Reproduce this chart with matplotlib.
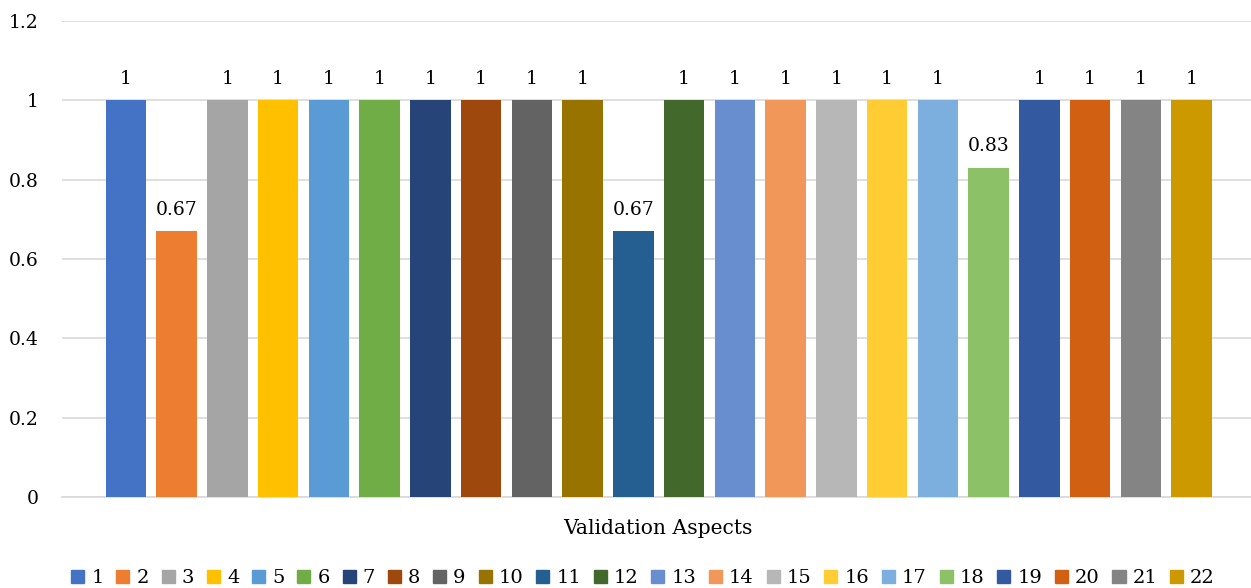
import matplotlib
matplotlib.use("Agg")
import matplotlib.pyplot as plt
from matplotlib.patches import Rectangle

categories = [str(i) for i in range(1, 23)]
values = [1, 0.67, 1, 1, 1, 1, 1, 1, 1, 1, 0.67, 1, 1, 1, 1, 1, 1, 0.83, 1, 1, 1, 1]
labels = ["1", "0.67", "1", "1", "1", "1", "1", "1", "1", "1", "0.67", "1", "1", "1",
          "1", "1", "1", "0.83", "1", "1", "1", "1"]
colors = ["#4472C4", "#ED7D31", "#A5A5A5", "#FFC000", "#5B9BD5", "#70AD47", "#264478",
          "#9E480E", "#636363", "#997300", "#255E91", "#43682B", "#698ED0", "#F1975A",
          "#B7B7B7", "#FFCD33", "#7CAFDD", "#8CC168", "#335AA1", "#D26012", "#848484",
          "#CC9A00"]
yticks = [0, 0.2, 0.4, 0.6, 0.8, 1, 1.2]
ytick_labels = ["0", "0.2", "0.4", "0.6", "0.8", "1", "1.2"]
xlabel = "Validation Aspects"

plt.rcParams['font.family'] = ['DejaVu Serif']

fig = plt.figure(figsize=(12.51, 5.88), dpi=100)
ax = fig.add_axes([62/1251, 1 - 497/588, 1 - 62/1251, (497 - 21)/588])

x = list(range(len(categories)))
bars = ax.bar(x, values, width=0.8, color=colors, zorder=3)
for rect, lab in zip(bars, labels):
    ax.annotate(lab, (rect.get_x() + rect.get_width()/2, rect.get_height()),
                xytext=(0, 9), textcoords="offset points", ha="center", va="bottom",
                fontsize=13.5, color="#000000")

ax.set_ylim(0, 1.2)
ax.set_xlim(-1.26, 21 + 1.17)
ax.set_yticks(yticks)
ax.set_yticklabels(ytick_labels, fontsize=13.5)
ax.set_xticks([])
ax.tick_params(axis='y', length=0, pad=17)
ax.grid(axis='y', color='#D9D9D9', linewidth=1.2, zorder=0)
for s in ['top', 'right', 'left']:
    ax.spines[s].set_visible(False)
ax.spines['bottom'].set_color('#D9D9D9')
ax.spines['bottom'].set_linewidth(1.2)

fig.text(658/1251, 1 - 528/588, xlabel, ha='center', va='center', fontsize=14.6)

handles = [Rectangle((0, 0), 1, 1, color=c) for c in colors]
leg = fig.legend(handles, categories, loc='center', bbox_to_anchor=(643/1251, 1 - 578/588),
                 ncol=22, frameon=False, fontsize=14, handlelength=0.67, handleheight=0.67,
                 handletextpad=0.36, columnspacing=0.66, borderaxespad=0, borderpad=0)

fig.savefig("out.png", dpi=100)
